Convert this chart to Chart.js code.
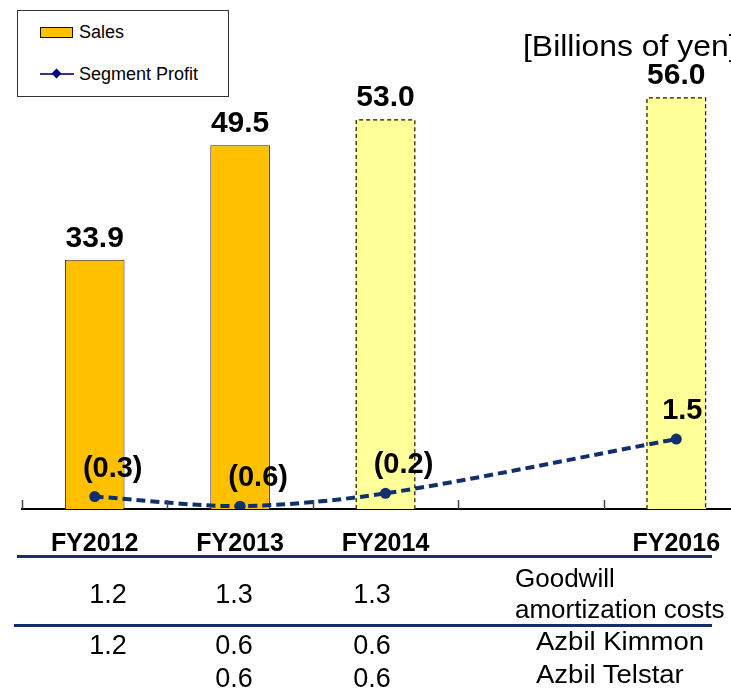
<!DOCTYPE html>
<html>
<head>
<meta charset="utf-8">
<script src="https://cdn.jsdelivr.net/npm/chart.js@4.4.1/dist/chart.umd.min.js"></script>
<style>
  html, body { margin: 0; padding: 0; background: #fff; overflow: hidden; width: 731px; height: 689px; }
  body { position: relative; font-family: "Liberation Sans", Arial, sans-serif; color: #000; }
  #c { position: absolute; left: 0; top: 0; }
  .abs { position: absolute; white-space: nowrap; }
  .legend { left: 17px; top: 10px; width: 210px; height: 85px; border: 1.5px solid #333; background: #fff; }
  .sw { position: absolute; left: 22px; top: 16px; width: 31px; height: 9px; background: #FFC000; border: 1.5px solid #111; }
  .ln { position: absolute; left: 22px; top: 62px; width: 34px; height: 2px; background: #333399; }
  .dm { position: absolute; left: 35px; top: 59px; width: 7px; height: 7px; background: #000080; transform: rotate(45deg); }
  .lt { position: absolute; left: 61px; font-size: 18px; line-height: 20px; }
  .unit { left: 523px; top: 31px; font-size: 29px; line-height: 30px; transform: scaleX(1.1); transform-origin: left center; }
  .rule { position: absolute; height: 3px; background: #13306A; }
  .num { font-size: 27px; line-height: 28px; transform: translate(-50%, -50%); }
  .lab { font-size: 25px; line-height: 28px; transform-origin: left center; }
</style>
</head>
<body>
<canvas id="c" width="760" height="689" style="width:760px;height:689px"></canvas>

<div class="abs legend">
  <div class="sw"></div>
  <div class="lt" style="top:11px">Sales</div>
  <div class="ln"></div>
  <div class="dm"></div>
  <div class="lt" style="top:53px">Segment Profit</div>
</div>
<div class="abs unit">[Billions of yen]</div>

<div class="rule" style="left:17px; top:555px; width:695px;"></div>
<div class="rule" style="left:14px; top:624px; width:698px;"></div>
<div id="table"></div>

<script>
// ---- data ----
const categories = ['FY2012', 'FY2013', 'FY2014', 'FY2015', 'FY2016'];
const salesValues = [33.9, 49.5, 53.0, null, 56.0];
const profitValues = [-0.3, -0.6, -0.2, null, 1.5];
const isForecast = [false, false, true, false, true];

// table below the chart
const goodwillCosts = ['1.2', '1.3', '1.3'];
const kimmonCosts = ['1.2', '0.6', '0.6'];
const telstarCosts = ['', '0.6', '0.6'];
const tableLabels = ['Goodwill', 'amortization costs', 'Azbil Kimmon', 'Azbil Telstar'];

const ORANGE = '#FFC000', LIGHT = '#FFFF99', NAVY = '#10306B';
const FONT = '"Liberation Sans", Arial, sans-serif';

// ---- table (HTML text) ----
(function () {
  const t = document.getElementById('table');
  const cx = [108, 234, 372];
  function add(cls, text, left, top, sx) {
    const d = document.createElement('div');
    d.className = 'abs ' + cls;
    d.textContent = text;
    d.style.left = left + 'px';
    d.style.top = top + 'px';
    if (sx) d.style.transform = 'translateY(-50%) scaleX(' + sx + ')';
    t.appendChild(d);
  }
  goodwillCosts.forEach((v, i) => add('num', v, cx[i], 594));
  kimmonCosts.forEach((v, i) => { if (v) add('num', v, cx[i], 645); });
  telstarCosts.forEach((v, i) => { if (v) add('num', v, cx[i], 678); });
  add('lab', tableLabels[0], 515, 578, 1.04);
  add('lab', tableLabels[1], 515, 609, 1.04);
  add('lab', tableLabels[2], 536, 641, 1.1);
  add('lab', tableLabels[3], 536, 674, 1.1);
})();

// ---- plugin: inner ticks, dashed forecast bars, value labels ----
const decor = {
  id: 'decor',
  afterDatasetsDraw(chart) {
    const ctx = chart.ctx;
    const xs = chart.scales.x;
    const area = chart.chartArea;
    const n = categories.length;
    const step = (xs.right - xs.left) / n;
    ctx.save();
    ctx.strokeStyle = '#444';
    ctx.lineWidth = 1.5;
    for (let i = 0; i <= n; i++) {
      const x = Math.round(xs.getPixelForValue(i) - step / 2) + 0.5;
      ctx.beginPath();
      ctx.moveTo(x, area.bottom);
      ctx.lineTo(x, area.bottom - 9);
      ctx.stroke();
    }
    ctx.restore();

    const barMeta = chart.getDatasetMeta(0);
    ctx.save();
    ctx.strokeStyle = '#111';
    ctx.lineWidth = 1.2;
    ctx.setLineDash([4, 3]);
    barMeta.data.forEach((bar, i) => {
      if (!isForecast[i] || salesValues[i] == null) return;
      const p = bar.getProps(['x', 'y', 'base', 'width'], true);
      const l = p.x - p.width / 2, r = p.x + p.width / 2;
      ctx.beginPath();
      ctx.moveTo(l + 0.5, p.base);
      ctx.lineTo(l + 0.5, p.y + 0.5);
      ctx.lineTo(r - 0.5, p.y + 0.5);
      ctx.lineTo(r - 0.5, p.base);
      ctx.stroke();
    });
    ctx.restore();

    ctx.save();
    ctx.fillStyle = '#000';
    ctx.font = 'bold 30px ' + FONT;
    ctx.textAlign = 'center';
    ctx.textBaseline = 'alphabetic';
    barMeta.data.forEach((bar, i) => {
      if (salesValues[i] == null) return;
      const p = bar.getProps(['x', 'y'], true);
      ctx.fillText(salesValues[i].toFixed(1), p.x, p.y - 13);
    });
    ctx.restore();
  },
  afterDraw(chart) {
    const ctx = chart.ctx;
    const lineMeta = chart.getDatasetMeta(1);
    ctx.save();
    ctx.fillStyle = '#000';
    ctx.font = 'bold 29px ' + FONT;
    ctx.textAlign = 'center';
    ctx.textBaseline = 'alphabetic';
    lineMeta.data.forEach((pt, i) => {
      const v = profitValues[i];
      if (v == null) return;
      const p = pt.getProps(['x', 'y'], true);
      const txt = v < 0 ? '(' + Math.abs(v).toFixed(1) + ')' : v.toFixed(1);
      ctx.fillText(txt, p.x + (v < 0 ? 18 : 6), p.y - 20);
    });
    ctx.restore();
  }
};

new Chart(document.getElementById('c'), {
  data: {
    labels: categories,
    datasets: [
      {
        type: 'bar',
        label: 'Sales',
        data: salesValues,
        yAxisID: 'y',
        order: 1,
        backgroundColor: isForecast.map(f => f ? LIGHT : ORANGE),
        borderColor: '#222',
        borderWidth: isForecast.map(f => f ? 0 : 1),
        borderSkipped: 'bottom',
        barPercentage: 0.41,
        categoryPercentage: 1.0
      },
      {
        type: 'line',
        label: 'Segment Profit',
        data: profitValues,
        yAxisID: 'y1',
        order: 0,
        borderColor: NAVY,
        backgroundColor: NAVY,
        borderWidth: 4,
        borderDash: [9, 5],
        tension: 0.3,
        spanGaps: true,
        pointRadius: 5.5,
        pointBackgroundColor: NAVY,
        pointBorderColor: NAVY,
        pointBorderWidth: 0,
        fill: false
      }
    ]
  },
  options: {
    responsive: false,
    animation: false,
    devicePixelRatio: 1,
    layout: { padding: { left: 22, right: 11, top: 68, bottom: 110 } },
    plugins: { legend: { display: false }, tooltip: { enabled: false }, title: { display: false } },
    scales: {
      x: {
        offset: true,
        grid: { display: false, drawTicks: false },
        border: { display: true, color: '#000', width: 2 },
        ticks: {
          padding: 20,
          color: '#000',
          font: { family: FONT, size: 25, weight: 'bold' },
          maxRotation: 0,
          autoSkip: false,
          callback: function (value, index) {
            return salesValues[index] == null ? '' : categories[index];
          }
        }
      },
      y: { display: false, min: 0, max: 60 },
      y1: { display: false, min: -0.69, max: 13.13, position: 'right' }
    }
  },
  plugins: [decor]
});
</script>
</body>
</html>
